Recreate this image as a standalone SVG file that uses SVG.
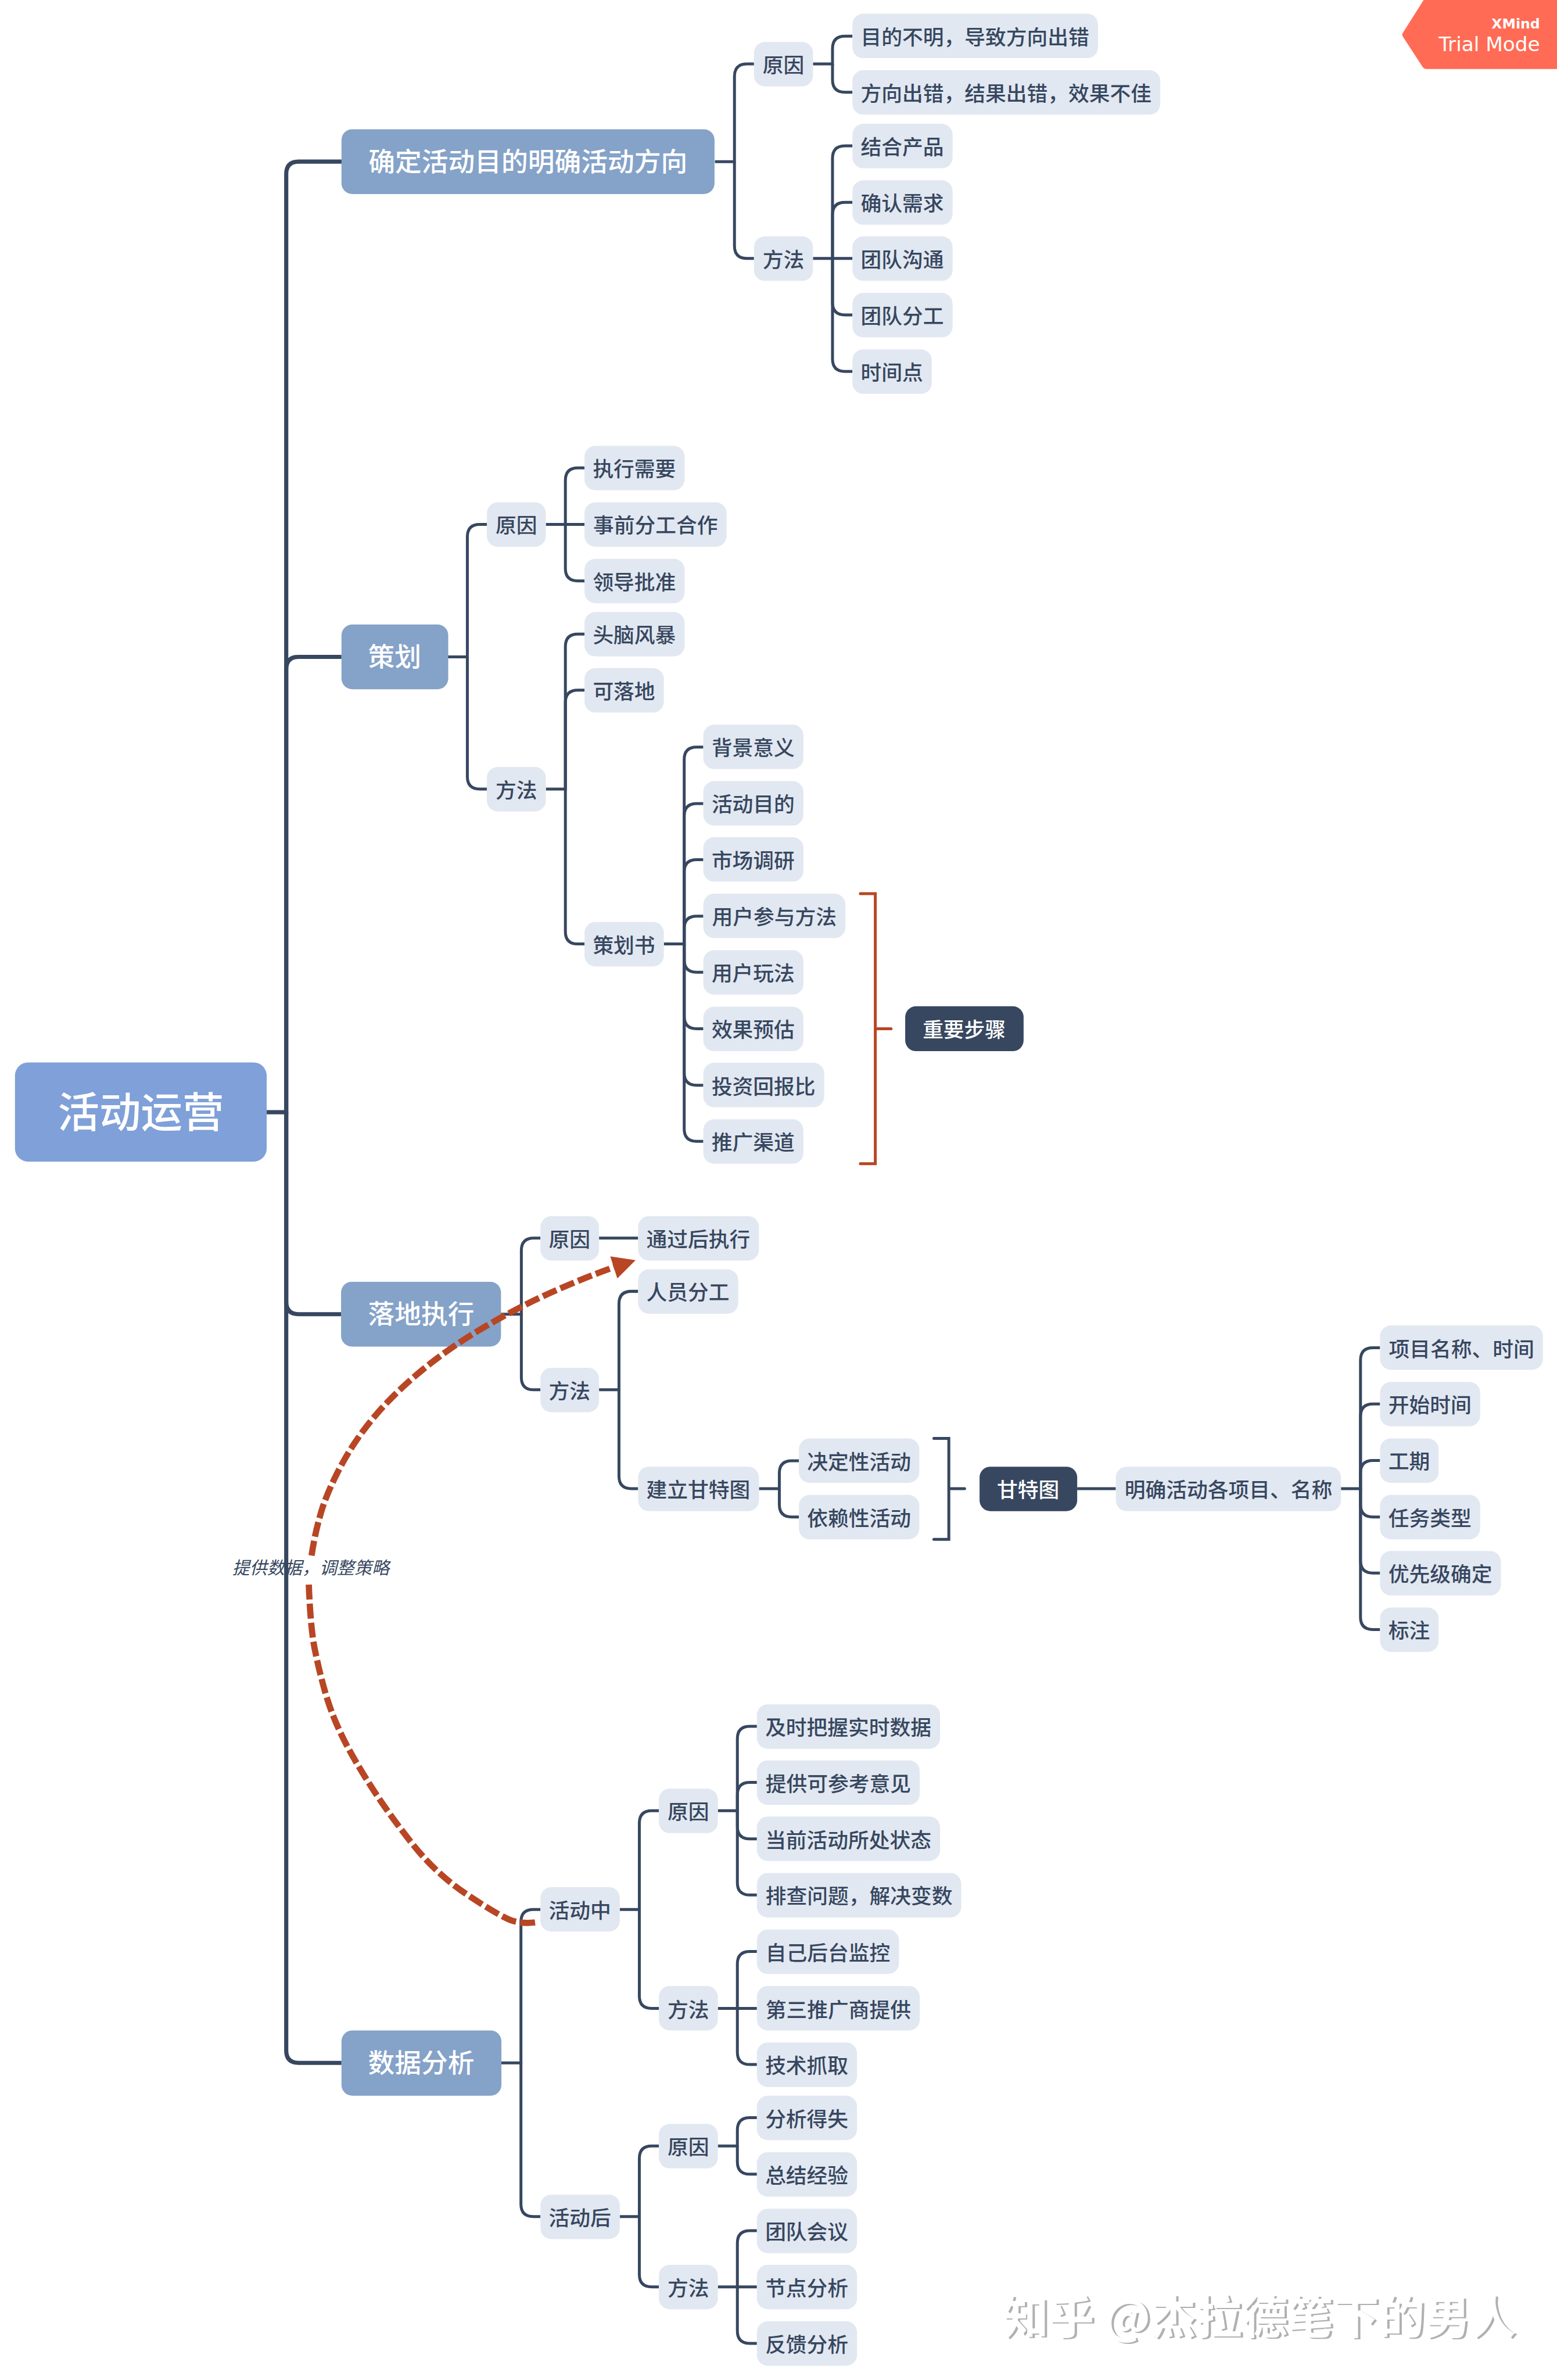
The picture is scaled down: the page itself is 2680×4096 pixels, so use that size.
<svg xmlns="http://www.w3.org/2000/svg" width="2680" height="4096" viewBox="0 0 2680 4096">
<style>
text{font-family:"Noto Sans CJK SC","Noto Sans",sans-serif;text-anchor:middle}
.l{fill:#E2E8F1}.t{fill:#374760;font-size:50px;font-weight:500;transform:translateY(3px)}
.d{fill:#374760}.w{fill:#fff;font-size:50px;font-weight:500;transform:translateY(3px)}
.m{fill:#85A2C8}.mt{fill:#fff;font-size:64px;font-weight:500}
.e{fill:none;stroke:#374760;stroke-width:7}
.e1{fill:none;stroke:#374760;stroke-width:10}
.b{fill:none;stroke-width:7;stroke-linecap:round;stroke-linejoin:miter}
.rel{fill:none;stroke:#B84624;stroke-width:15;stroke-dasharray:36 10}
</style>
<defs>
<filter id="emboss" x="-5%" y="-20%" width="110%" height="140%">
<feOffset in="SourceAlpha" dx="-5" dy="-3" result="o"/>
<feComposite in="SourceGraphic" in2="o" operator="out"/>
</filter>
</defs>
<rect width="2680" height="4096" fill="#fff"/>
<g transform="scale(0.71505)">
<text id="rel-label" x="748" y="3788" font-size="42" font-style="italic" fill="#374760">提供数据，调整策略</text>
<g id="connectors">
<path class="e1" d="M642,2677H689V419Q689,389 719,389H823"/>
<path class="e1" d="M689,2677V1611Q689,1581 719,1581H822"/>
<path class="e1" d="M689,2677V3133Q689,3163 719,3163H821"/>
<path class="e1" d="M689,2677V4935Q689,4965 719,4965H822"/>
<path class="e" d="M1721,389H1768V184Q1768,154 1798,154H1815"/>
<path class="e" d="M1768,389V592Q1768,622 1798,622H1815"/>
<path class="e" d="M1957,154H2004V117Q2004,87 2034,87H2052"/>
<path class="e" d="M2004,154V192Q2004,222 2034,222H2052"/>
<path class="e" d="M1957,622H2052"/>
<path class="e" d="M2004,622V381Q2004,351 2034,351H2052"/>
<path class="e" d="M2004,622V517Q2004,487 2034,487H2052"/>
<path class="e" d="M2004,622V728Q2004,758 2034,758H2052"/>
<path class="e" d="M2004,622V864Q2004,894 2034,894H2052"/>
<path class="e" d="M1078,1581H1125V1292Q1125,1262 1155,1262H1172"/>
<path class="e" d="M1125,1581V1869Q1125,1899 1155,1899H1172"/>
<path class="e" d="M1314,1262H1407"/>
<path class="e" d="M1361,1262V1156Q1361,1126 1391,1126H1407"/>
<path class="e" d="M1361,1262V1368Q1361,1398 1391,1398H1407"/>
<path class="e" d="M1314,1899H1361V1556Q1361,1526 1391,1526H1407"/>
<path class="e" d="M1361,1899V1691Q1361,1661 1391,1661H1407"/>
<path class="e" d="M1361,1899V2242Q1361,2272 1391,2272H1407"/>
<path class="e" d="M1598,2272H1647V1828Q1647,1798 1677,1798H1693"/>
<path class="e" d="M1647,2272V1964Q1647,1934 1677,1934H1693"/>
<path class="e" d="M1647,2272V2099Q1647,2069 1677,2069H1693"/>
<path class="e" d="M1647,2272V2235Q1647,2205 1677,2205H1693"/>
<path class="e" d="M1647,2272V2310Q1647,2340 1677,2340H1693"/>
<path class="e" d="M1647,2272V2446Q1647,2476 1677,2476H1693"/>
<path class="e" d="M1647,2272V2582Q1647,2612 1677,2612H1693"/>
<path class="e" d="M1647,2272V2717Q1647,2747 1677,2747H1693"/>
<path class="e" d="M1206,3163H1255V3010Q1255,2980 1285,2980H1301"/>
<path class="e" d="M1255,3163V3315Q1255,3345 1285,3345H1301"/>
<path class="e" d="M1442,2980H1536"/>
<path class="e" d="M1442,3345H1490V3138Q1490,3108 1520,3108H1536"/>
<path class="e" d="M1490,3345V3553Q1490,3583 1520,3583H1536"/>
<path class="e" d="M1827,3583H1876V3546Q1876,3516 1906,3516H1923"/>
<path class="e" d="M1876,3583V3621Q1876,3651 1906,3651H1923"/>
<path class="e" d="M2593,3583H2686"/>
<path class="e" d="M3228,3583H3275V3274Q3275,3244 3305,3244H3322"/>
<path class="e" d="M3275,3583V3409Q3275,3379 3305,3379H3322"/>
<path class="e" d="M3275,3583V3545Q3275,3515 3305,3515H3322"/>
<path class="e" d="M3275,3583V3621Q3275,3651 3305,3651H3322"/>
<path class="e" d="M3275,3583V3756Q3275,3786 3305,3786H3322"/>
<path class="e" d="M3275,3583V3892Q3275,3922 3305,3922H3322"/>
<path class="e" d="M1206,4965H1254V4626Q1254,4596 1284,4596H1301"/>
<path class="e" d="M1254,4965V5305Q1254,5335 1284,5335H1301"/>
<path class="e" d="M1492,4596H1539V4388Q1539,4358 1569,4358H1586"/>
<path class="e" d="M1539,4596V4804Q1539,4834 1569,4834H1586"/>
<path class="e" d="M1728,4358H1775V4185Q1775,4155 1805,4155H1822"/>
<path class="e" d="M1775,4358V4320Q1775,4290 1805,4290H1822"/>
<path class="e" d="M1775,4358V4396Q1775,4426 1805,4426H1822"/>
<path class="e" d="M1775,4358V4531Q1775,4561 1805,4561H1822"/>
<path class="e" d="M1728,4834H1822"/>
<path class="e" d="M1775,4834V4727Q1775,4697 1805,4697H1822"/>
<path class="e" d="M1775,4834V4939Q1775,4969 1805,4969H1822"/>
<path class="e" d="M1492,5335H1539V5195Q1539,5165 1569,5165H1586"/>
<path class="e" d="M1539,5335V5474Q1539,5504 1569,5504H1586"/>
<path class="e" d="M1728,5165H1775V5127Q1775,5097 1805,5097H1822"/>
<path class="e" d="M1775,5165V5203Q1775,5233 1805,5233H1822"/>
<path class="e" d="M1728,5504H1822"/>
<path class="e" d="M1775,5504V5399Q1775,5369 1805,5369H1822"/>
<path class="e" d="M1775,5504V5610Q1775,5640 1805,5640H1822"/>
<path class="b" stroke="#B84624" d="M2071,2151H2107V2801H2071M2107,2476H2145"/>
<path class="b" stroke="#374760" d="M2248,3462H2284V3705H2248M2284,3583H2322"/>
</g>
<g id="root"><rect x="36" y="2557" width="606" height="239" rx="32" fill="#7FA0D8"/><text x="339" y="2713" fill="#fff" font-size="100" font-weight="500">活动运营</text></g>
<g id="m1"><rect class="m" x="822" y="311" width="898" height="156" rx="26"/><text class="mt" x="1271" y="412">确定活动目的明确活动方向</text></g>
<g id="m2"><rect class="m" x="822" y="1503" width="257" height="156" rx="26"/><text class="mt" x="950" y="1604">策划</text></g>
<g id="m3"><rect class="m" x="821" y="3085" width="385" height="156" rx="26"/><text class="mt" x="1014" y="3186">落地执行</text></g>
<g id="m4"><rect class="m" x="822" y="4887" width="385" height="157" rx="26"/><text class="mt" x="1014" y="4988">数据分析</text></g>

<g id="a1"><rect class="l" x="1815" y="101" width="142" height="107" rx="26"/><text class="t" x="1886" y="172">原因</text></g>
<g id="a2"><rect class="l" x="1815" y="569" width="142" height="107" rx="26"/><text class="t" x="1886" y="640">方法</text></g>
<g id="a11"><rect class="l" x="2052" y="33" width="591" height="107" rx="26"/><text class="t" x="2347" y="105">目的不明，导致方向出错</text></g>
<g id="a12"><rect class="l" x="2052" y="169" width="741" height="107" rx="26"/><text class="t" x="2422" y="240">方向出错，结果出错，效果不佳</text></g>
<g id="a21"><rect class="l" x="2052" y="298" width="241" height="107" rx="26"/><text class="t" x="2172" y="369">结合产品</text></g>
<g id="a22"><rect class="l" x="2052" y="434" width="241" height="107" rx="26"/><text class="t" x="2172" y="505">确认需求</text></g>
<g id="a23"><rect class="l" x="2052" y="569" width="241" height="107" rx="26"/><text class="t" x="2172" y="640">团队沟通</text></g>
<g id="a24"><rect class="l" x="2052" y="705" width="241" height="107" rx="26"/><text class="t" x="2172" y="776">团队分工</text></g>
<g id="a25"><rect class="l" x="2052" y="841" width="191" height="107" rx="26"/><text class="t" x="2147" y="912">时间点</text></g>

<g id="b1"><rect class="l" x="1172" y="1209" width="142" height="107" rx="26"/><text class="t" x="1243" y="1280">原因</text></g>
<g id="b2"><rect class="l" x="1172" y="1846" width="142" height="107" rx="26"/><text class="t" x="1243" y="1917">方法</text></g>
<g id="b11"><rect class="l" x="1407" y="1073" width="241" height="107" rx="26"/><text class="t" x="1527" y="1144">执行需要</text></g>
<g id="b12"><rect class="l" x="1407" y="1209" width="342" height="107" rx="26"/><text class="t" x="1578" y="1280">事前分工合作</text></g>
<g id="b13"><rect class="l" x="1407" y="1345" width="241" height="107" rx="26"/><text class="t" x="1527" y="1416">领导批准</text></g>
<g id="b21"><rect class="l" x="1407" y="1473" width="241" height="107" rx="26"/><text class="t" x="1527" y="1544">头脑风暴</text></g>
<g id="b22"><rect class="l" x="1407" y="1608" width="191" height="107" rx="26"/><text class="t" x="1502" y="1679">可落地</text></g>
<g id="b23"><rect class="l" x="1407" y="2219" width="191" height="107" rx="26"/><text class="t" x="1502" y="2290">策划书</text></g>
<g id="b31"><rect class="l" x="1693" y="1744" width="241" height="107" rx="26"/><text class="t" x="1813" y="1815">背景意义</text></g>
<g id="b32"><rect class="l" x="1693" y="1880" width="241" height="107" rx="26"/><text class="t" x="1813" y="1951">活动目的</text></g>
<g id="b33"><rect class="l" x="1693" y="2015" width="241" height="107" rx="26"/><text class="t" x="1813" y="2087">市场调研</text></g>
<g id="b34"><rect class="l" x="1693" y="2151" width="342" height="107" rx="26"/><text class="t" x="1864" y="2222">用户参与方法</text></g>
<g id="b35"><rect class="l" x="1693" y="2287" width="241" height="107" rx="26"/><text class="t" x="1813" y="2358">用户玩法</text></g>
<g id="b36"><rect class="l" x="1693" y="2423" width="241" height="107" rx="26"/><text class="t" x="1813" y="2494">效果预估</text></g>
<g id="b37"><rect class="l" x="1693" y="2558" width="291" height="107" rx="26"/><text class="t" x="1838" y="2630">投资回报比</text></g>
<g id="b38"><rect class="l" x="1693" y="2694" width="241" height="107" rx="26"/><text class="t" x="1813" y="2765">推广渠道</text></g>
<g id="s1"><rect class="d" x="2179" y="2422" width="285" height="108" rx="26"/><text class="w" x="2321" y="2494">重要步骤</text></g>

<g id="c1"><rect class="l" x="1301" y="2927" width="141" height="107" rx="26"/><text class="t" x="1371" y="2998">原因</text></g>
<g id="c2"><rect class="l" x="1301" y="3292" width="141" height="107" rx="26"/><text class="t" x="1371" y="3363">方法</text></g>
<g id="c11"><rect class="l" x="1536" y="2927" width="291" height="107" rx="26"/><text class="t" x="1681" y="2998">通过后执行</text></g>
<g id="c21"><rect class="l" x="1536" y="3055" width="241" height="107" rx="26"/><text class="t" x="1656" y="3126">人员分工</text></g>
<g id="c22"><rect class="l" x="1536" y="3530" width="291" height="107" rx="26"/><text class="t" x="1681" y="3601">建立甘特图</text></g>
<g id="c31"><rect class="l" x="1923" y="3462" width="290" height="107" rx="26"/><text class="t" x="2068" y="3534">决定性活动</text></g>
<g id="c32"><rect class="l" x="1923" y="3598" width="290" height="107" rx="26"/><text class="t" x="2068" y="3669">依赖性活动</text></g>
<g id="s2"><rect class="d" x="2358" y="3530" width="235" height="107" rx="26"/><text class="w" x="2475" y="3601">甘特图</text></g>
<g id="c4"><rect class="l" x="2686" y="3530" width="542" height="107" rx="26"/><text class="t" x="2957" y="3601">明确活动各项目、名称</text></g>
<g id="c51"><rect class="l" x="3322" y="3190" width="392" height="107" rx="26"/><text class="t" x="3518" y="3262">项目名称、时间</text></g>
<g id="c52"><rect class="l" x="3322" y="3326" width="241" height="107" rx="26"/><text class="t" x="3442" y="3397">开始时间</text></g>
<g id="c53"><rect class="l" x="3322" y="3462" width="141" height="107" rx="26"/><text class="t" x="3392" y="3533">工期</text></g>
<g id="c54"><rect class="l" x="3322" y="3598" width="241" height="107" rx="26"/><text class="t" x="3442" y="3669">任务类型</text></g>
<g id="c55"><rect class="l" x="3322" y="3733" width="291" height="107" rx="26"/><text class="t" x="3467" y="3804">优先级确定</text></g>
<g id="c56"><rect class="l" x="3322" y="3869" width="141" height="107" rx="26"/><text class="t" x="3392" y="3940">标注</text></g>

<g id="d1"><rect class="l" x="1301" y="4542" width="191" height="107" rx="26"/><text class="t" x="1396" y="4614">活动中</text></g>
<g id="d2"><rect class="l" x="1301" y="5282" width="191" height="107" rx="26"/><text class="t" x="1396" y="5353">活动后</text></g>
<g id="d11"><rect class="l" x="1586" y="4305" width="142" height="107" rx="26"/><text class="t" x="1657" y="4376">原因</text></g>
<g id="d12"><rect class="l" x="1586" y="4780" width="142" height="107" rx="26"/><text class="t" x="1657" y="4852">方法</text></g>
<g id="d21"><rect class="l" x="1586" y="5112" width="142" height="107" rx="26"/><text class="t" x="1657" y="5183">原因</text></g>
<g id="d22"><rect class="l" x="1586" y="5451" width="142" height="107" rx="26"/><text class="t" x="1657" y="5522">方法</text></g>
<g id="e1"><rect class="l" x="1822" y="4102" width="441" height="107" rx="26"/><text class="t" x="2042" y="4173">及时把握实时数据</text></g>
<g id="e2"><rect class="l" x="1822" y="4237" width="392" height="107" rx="26"/><text class="t" x="2018" y="4308">提供可参考意见</text></g>
<g id="e3"><rect class="l" x="1822" y="4372" width="441" height="107" rx="26"/><text class="t" x="2042" y="4444">当前活动所处状态</text></g>
<g id="e4"><rect class="l" x="1822" y="4508" width="492" height="107" rx="26"/><text class="t" x="2068" y="4579">排查问题，解决变数</text></g>
<g id="e5"><rect class="l" x="1822" y="4644" width="342" height="107" rx="26"/><text class="t" x="1993" y="4715">自己后台监控</text></g>
<g id="e6"><rect class="l" x="1822" y="4780" width="392" height="107" rx="26"/><text class="t" x="2018" y="4852">第三推广商提供</text></g>
<g id="e7"><rect class="l" x="1822" y="4916" width="241" height="107" rx="26"/><text class="t" x="1942" y="4987">技术抓取</text></g>
<g id="f1"><rect class="l" x="1822" y="5044" width="241" height="107" rx="26"/><text class="t" x="1942" y="5115">分析得失</text></g>
<g id="f2"><rect class="l" x="1822" y="5180" width="241" height="107" rx="26"/><text class="t" x="1942" y="5251">总结经验</text></g>
<g id="f3"><rect class="l" x="1822" y="5316" width="241" height="107" rx="26"/><text class="t" x="1942" y="5387">团队会议</text></g>
<g id="f4"><rect class="l" x="1822" y="5451" width="241" height="107" rx="26"/><text class="t" x="1942" y="5522">节点分析</text></g>
<g id="f5"><rect class="l" x="1822" y="5587" width="241" height="107" rx="26"/><text class="t" x="1942" y="5658">反馈分析</text></g>

<g id="relationship">
<path class="rel" d="M1288,4627Q1254,4631 1227,4620.5Q1200,4610 1126,4561Q1052,4512 996,4442Q940,4372 894.5,4301.5Q849,4231 823.5,4178.5Q798,4126 783,4073.5Q768,4021 757.5,3968.5Q747,3916 743,3805"/>
<path class="rel" d="M750,3744Q758,3690 773,3639.5Q788,3589 822.5,3525Q857,3461 906.5,3403.5Q956,3346 1025,3290.5Q1094,3235 1178,3187Q1262,3139 1338.5,3105.5Q1415,3072 1478,3050"/>
<polygon points="1530,3033 1469,3024 1486,3077" fill="#B84624"/>
</g>
<g id="trial">
<path d="M3427,0L3377,79Q3374,83 3377,88L3425,162Q3428,166 3433,166H3748V0Z" fill="#FF6B55"/>
<text x="3707" y="68" font-size="33" font-weight="700" fill="#fff" style="font-family:'DejaVu Sans',sans-serif;text-anchor:end">XMind</text>
<text x="3707" y="123" font-size="48" fill="#fff" style="font-family:'DejaVu Sans',sans-serif;text-anchor:end">Trial Mode</text>
</g>
<text id="watermark" x="3037" y="5620" font-size="110" font-weight="700" fill="#B0B0B0" filter="url(#emboss)">知乎 @杰拉德笔下的男人</text>
</g>
</svg>
